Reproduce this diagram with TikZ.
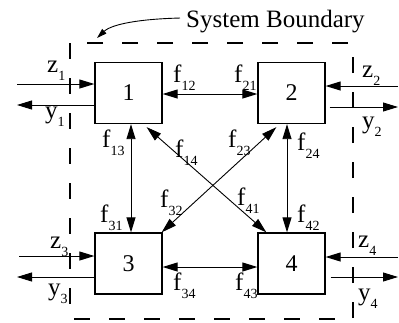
\documentclass[tikz,border=0pt]{standalone}
\usepackage{fontspec}
\setmainfont{Liberation Serif}
\usetikzlibrary{arrows.meta}
\newcommand\lbl[2]{#1\raisebox{-8pt}{\fontsize{14}{14}\selectfont #2}}
\begin{document}
\begin{tikzpicture}[x=1pt,y=-1pt,
  box/.style={draw, line width=1.3pt, minimum width=67pt, minimum height=61pt, inner sep=0, font=\fontsize{24}{24}\selectfont},
  lab/.style={anchor=base west, inner sep=0, font=\fontsize{25}{25}\selectfont},
  conn/.style={line width=0.9pt},
  tip/.style={-{Triangle[length=15pt,width=9pt]}},
  dtip/.style={{Triangle[length=15pt,width=9pt]}-{Triangle[length=15pt,width=9pt]}},
  boundary/.style={line width=1.2pt, dash pattern=on 16pt off 19pt}
]
\useasboundingbox (0,0) rectangle (399,322);

% boundary
\draw[boundary] (70,43) rectangle (353,319);

% boxes
\node[box] (b1) at (128.5,93) {1};
\node[box] (b2) at (291.5,93) {2};
\node[box] (b3) at (128.5,263.5) {3};
\node[box] (b4) at (291.5,263.5) {4};

% interconnections
\draw[conn,dtip] ([yshift=-1pt]b1.east) -- ([yshift=-1pt]b2.west);
\draw[conn,dtip] ([xshift=2.5pt]b1.south) -- ([xshift=2.5pt]b3.north);
\draw[conn,dtip] ([xshift=-4.5pt]b2.south) -- ([xshift=-4.5pt]b4.north);
\draw[conn,dtip] ([yshift=-3.5pt]b3.east) -- ([yshift=-3.5pt]b4.west);
\draw[conn,dtip] ([xshift=-16pt,yshift=-3pt]b1.south east) -- ([xshift=9pt]b4.north west);
\draw[conn,dtip] ([xshift=19pt,yshift=-3pt]b2.south west) -- ([xshift=-1pt]b3.north east);

% inputs / outputs
\coordinate (z1) at (17,84);
\coordinate (y1) at (17,105);
\coordinate (z2) at (398,86);
\coordinate (y2) at (398,107);
\coordinate (z3) at (19,256);
\coordinate (y3) at (17,277);
\coordinate (z4) at (398,257);
\coordinate (y4) at (398,277);
\draw[conn,tip] (z1) -- (z1 -| b1.west);
\draw[conn,tip] (y1 -| b1.west) -- (y1);
\draw[conn,tip] (z2) -- (z2 -| b2.east);
\draw[conn,tip,shorten <=4pt] (y2 -| b2.east) -- (y2);
\draw[conn,tip] (z3) -- (z3 -| b3.west);
\draw[conn,tip] (y3 -| b3.west) -- (y3);
\draw[conn,tip] (z4) -- (z4 -| b4.east);
\draw[conn,tip,shorten <=5pt] (y4 -| b4.east) -- (y4);

% title
\node[lab] (title) at (186,27) {System Boundary};
\draw[line width=0.9pt,-{Triangle[length=10pt,width=6pt]}] ([xshift=-6pt,yshift=3pt]title.west) .. controls (140,19) and (112,24) .. (97,38);

% labels
\node[lab] (lz1) at (47,72) {\lbl{z}{1}};
\node[lab] (ly1) at (45,118) {\lbl{y}{1}};
\node[lab] (lz2) at (362,77) {\lbl{z}{2}};
\node[lab] (ly2) at (362,128) {\lbl{y}{2}};
\node[lab] (lz3) at (50,248) {\lbl{z}{3}};
\node[lab] (ly3) at (48,295) {\lbl{y}{3}};
\node[lab] (lz4) at (358,247) {\lbl{z}{4}};
\node[lab] (ly4) at (358,300) {\lbl{y}{4}};

\node[lab] (f12) at (173,82) {\lbl{f}{12}};
\node[lab] (f21) at (234,82) {\lbl{f}{21}};
\node[lab] (f13) at (102,147) {\lbl{f}{13}};
\node[lab] (f14) at (175,157) {\lbl{f}{14}};
\node[lab] (f23) at (228,147) {\lbl{f}{23}};
\node[lab] (f24) at (297,150) {\lbl{f}{24}};
\node[lab] (f31) at (100,222) {\lbl{f}{31}};
\node[lab] (f32) at (160,207) {\lbl{f}{32}};
\node[lab] (f41) at (237,205) {\lbl{f}{41}};
\node[lab] (f42) at (297,222) {\lbl{f}{42}};
\node[lab] (f34) at (173,290) {\lbl{f}{34}};
\node[lab] (f43) at (235,290) {\lbl{f}{43}};
\end{tikzpicture}
\end{document}
